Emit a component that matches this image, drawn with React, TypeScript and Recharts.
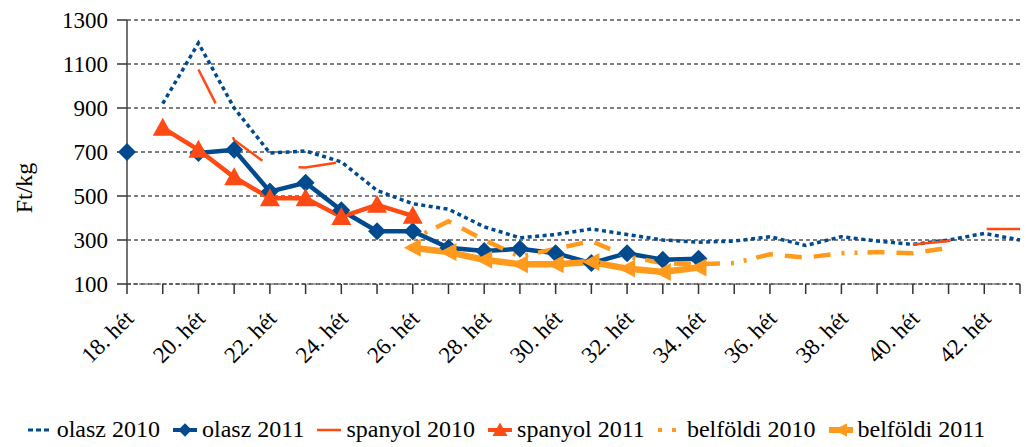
import React from 'react';
import { LineChart, Line, XAxis, YAxis, CartesianGrid } from 'recharts';

const weeks = [
  '18. hét', '19. hét', '20. hét', '21. hét', '22. hét', '23. hét', '24. hét',
  '25. hét', '26. hét', '27. hét', '28. hét', '29. hét', '30. hét', '31. hét',
  '32. hét', '33. hét', '34. hét', '35. hét', '36. hét', '37. hét', '38. hét',
  '39. hét', '40. hét', '41. hét', '42. hét', '43. hét',
];

const olasz2010 = [null, 920, 1195, 900, 695, 705, 655, 525, 465, 440, 360, 310, 325, 350, 325, 300, 290, 295, 315, 275, 315, 295, 280, 300, 330, 300];
const olasz2011 = [700, null, 695, 710, 520, 560, 435, 340, 340, 265, 250, 260, 240, 195, 240, 210, 215, null, null, null, null, null, null, null, null, null];
const spanyol2010 = [null, null, 1075, 755, 635, 630, 655, null, null, null, null, null, null, null, null, null, null, null, null, null, null, null, 280, 295, 350, 350];
const spanyol2011 = [null, 810, 710, 585, 490, 490, 405, 460, 410, null, null, null, null, null, null, null, null, null, null, null, null, null, null, null, null, null];
const belfoldi2010 = [null, null, null, null, null, null, null, null, 305, 385, 300, 225, 260, 295, 225, 195, 190, 195, 235, 220, 240, 245, 240, 265, null, null];
const belfoldi2011 = [null, null, null, null, null, null, null, null, 265, 245, 210, 190, 190, 200, 170, 155, 175, null, null, null, null, null, null, null, null, null];

const yTicks = [100, 300, 500, 700, 900, 1100, 1300];

const BLUE = '#004A8D';
const RED = '#FF4A14';
const ORANGE = '#FF9A1C';
const FONT = 'Liberation Serif, DejaVu Serif, serif';

const data = weeks.map((week, i) => ({
  week,
  olasz2010: olasz2010[i],
  olasz2011: olasz2011[i],
  spanyol2010: spanyol2010[i],
  spanyol2011: spanyol2011[i],
  belfoldi2010: belfoldi2010[i],
  belfoldi2011: belfoldi2011[i],
}));

// marker shapes
const diamond = (cx: number, cy: number) => `M${cx},${cy - 9}L${cx + 9},${cy}L${cx},${cy + 9}L${cx - 9},${cy}Z`;
const triUp = (cx: number, cy: number) => `M${cx},${cy - 10}L${cx + 10},${cy + 8}L${cx - 10},${cy + 8}Z`;
const triLeft = (cx: number, cy: number) => `M${cx - 9},${cy}L${cx + 8},${cy - 9}L${cx + 8},${cy + 9}Z`;

const renderDot = (shape: (x: number, y: number) => string, color: string) => (props: any) => {
  const { cx, cy, index, value } = props;
  if (cy == null || isNaN(cy) || value == null) return <g key={`e-${index}`} />;
  return <path key={`d-${index}`} d={shape(cx, cy)} fill={color} />;
};

const XTick = (props: any) => {
  const { x, y, payload, index } = props;
  if (index % 2 !== 0) return <g />;
  return (
    <g transform={`translate(${x + 8},${y + 24})`}>
      <text x={0} y={0} textAnchor="end" transform="rotate(-45)" style={{ fontFamily: FONT, fontSize: 23 }} fill="#000">
        {payload.value}
      </text>
    </g>
  );
};

const legendItems = [
  { name: 'olasz 2010', color: BLUE, width: 3, dash: '5 3', mark: null },
  { name: 'olasz 2011', color: BLUE, width: 4, dash: undefined, mark: diamond },
  { name: 'spanyol 2010', color: RED, width: 2.5, dash: undefined, mark: null },
  { name: 'spanyol 2011', color: RED, width: 4, dash: undefined, mark: triUp },
  { name: 'belföldi 2010', color: ORANGE, width: 4, dash: '4 10', mark: null },
  { name: 'belföldi 2011', color: ORANGE, width: 6, dash: undefined, mark: triLeft },
];

const ChartLegend = () => (
  <div style={{ position: 'absolute', top: 416, left: 0, width: 1026, display: 'flex', justifyContent: 'center', fontFamily: FONT, fontSize: 24, color: '#000' }}>
    {legendItems.map((it) => (
      <div key={it.name} style={{ display: 'flex', alignItems: 'center', marginRight: 13 }}>
        <svg width={24} height={24} style={{ marginRight: 5 }}>
          <line x1={0} y1={12} x2={24} y2={12} stroke={it.color} strokeWidth={it.width} strokeDasharray={it.dash} />
          {it.mark && <path d={it.mark(12, 12)} fill={it.color} transform="translate(12,12) scale(0.75) translate(-12,-12)" />}
        </svg>
        <span>{it.name}</span>
      </div>
    ))}
  </div>
);

export default function App() {
  return (
    <div style={{ position: 'absolute', top: 0, left: 0, width: 1026, height: 447, background: '#fff', fontFamily: FONT }}>
      <LineChart width={1026} height={447} data={data} margin={{ top: 20, right: 6, left: 0, bottom: 43 }} style={{ fontFamily: FONT }}>
        <CartesianGrid vertical={false} stroke="#000" strokeDasharray="4 3" />
        <XAxis
          dataKey="week"
          interval={0}
          height={120}
          tick={<XTick />}
          tickSize={10}
          axisLine={{ stroke: '#444', strokeDasharray: '4 2' }}
          tickLine={{ stroke: '#333', strokeWidth: 1.5 }}
        />
        <YAxis
          type="number"
          domain={[100, 1300]}
          ticks={yTicks}
          width={127}
          tickSize={10}
          tickMargin={9}
          interval={0}
          axisLine={{ stroke: '#444', strokeWidth: 1.5 }}
          tickLine={{ stroke: '#333', strokeWidth: 1.5 }}
          tick={{ fontSize: 23, fontFamily: FONT, fill: '#000', style: { fontFamily: FONT } }}
          label={() => (
            <text x={32} y={188} transform="rotate(-90 32 188)" textAnchor="middle" style={{ fontFamily: FONT, fontSize: 24 }} fill="#000">
              Ft/kg
            </text>
          )}
        />
        <Line dataKey="olasz2010" type="linear" stroke={BLUE} strokeWidth={3.5} strokeDasharray="4 3.5" dot={false} isAnimationActive={false} />
        <Line dataKey="olasz2011" type="linear" stroke={BLUE} strokeWidth={4.5} dot={renderDot(diamond, BLUE)} isAnimationActive={false} />
        <Line dataKey="spanyol2010" type="linear" stroke={RED} strokeWidth={2.5} strokeDasharray="38 38" dot={false} isAnimationActive={false} />
        <Line dataKey="spanyol2011" type="linear" stroke={RED} strokeWidth={4.5} dot={renderDot(triUp, RED)} isAnimationActive={false} />
        <Line dataKey="belfoldi2010" type="linear" stroke={ORANGE} strokeWidth={4.5} strokeDasharray="3 10 3 10 17 12 17 12 17 11" dot={false} isAnimationActive={false} />
        <Line dataKey="belfoldi2011" type="linear" stroke={ORANGE} strokeWidth={6.5} dot={renderDot(triLeft, ORANGE)} isAnimationActive={false} />
      </LineChart>
      <ChartLegend />
    </div>
  );
}
